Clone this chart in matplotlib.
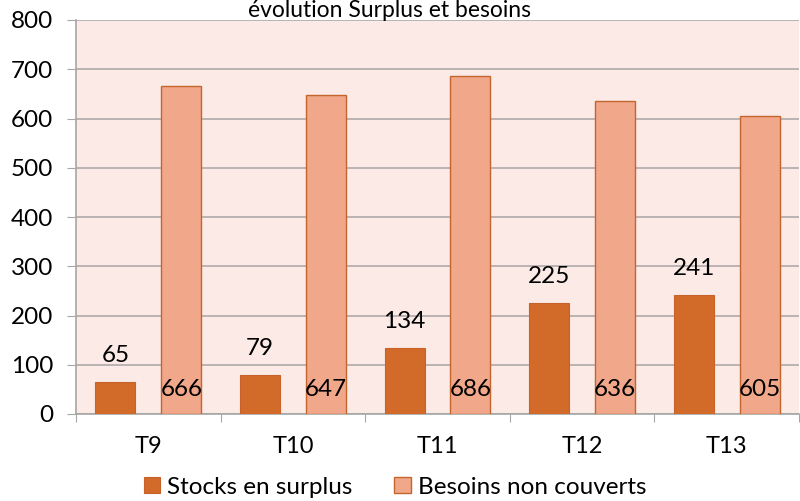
import numpy as np
import matplotlib.pyplot as plt

categories = ['T9', 'T10', 'T11', 'T12', 'T13']
stocks_surplus = [65, 79, 134, 225, 241]
besoins_non_couverts = [666, 647, 686, 636, 605]

plt.rcParams['font.family'] = ['Lato', 'DejaVu Sans']

fig = plt.figure(figsize=(8, 5.01), dpi=100)
ax = fig.add_axes([76 / 800, 1 - 414 / 501, 723 / 800, 394 / 501])
ax.set_facecolor('#FBEAE5')

x = np.arange(len(categories))
w = 0.277
off = 0.228
b1 = ax.bar(x - off, stocks_surplus, w, color='#D26B29', edgecolor='#C6622A', linewidth=0.8,
            label='Stocks en surplus', zorder=3)
b2 = ax.bar(x + off, besoins_non_couverts, w, color='#F1A88A', edgecolor='#C5652E', linewidth=1.0,
            label='Besoins non couverts', zorder=3)

# valeurs : au-dessus pour le surplus, en bas de la barre pour les besoins
for xi, v in zip(x - off, stocks_surplus):
    ax.annotate(str(v), (xi, v), xytext=(0, 19), textcoords='offset points',
                ha='center', va='center', fontsize=17.5, color='black')
for xi, v in zip(x + off, besoins_non_couverts):
    ax.annotate(str(v), (xi, 0), xytext=(0, 18), textcoords='offset points',
                ha='center', va='center', fontsize=17.5, color='black', zorder=4)

ax.set_xlim(-0.5, len(categories) - 0.5)
ax.set_ylim(0, 800)
ax.set_yticks(range(0, 801, 100))
ax.yaxis.grid(True, color='#B0AAAA', linewidth=1.2, zorder=0)
ax.set_axisbelow(True)

ax.set_xticks(np.arange(-0.5, len(categories), 1.0))
ax.set_xticklabels([])
ax.set_xticks(x, minor=True)
ax.set_xticklabels(categories, minor=True, fontsize=17)
ax.tick_params(axis='x', which='major', length=6, color='#A6A6A6')
ax.tick_params(axis='x', which='minor', length=0, pad=16)
ax.tick_params(axis='y', length=6.5, color='#A6A6A6', labelsize=17.5, pad=10)

for s in ['top', 'right']:
    ax.spines[s].set_visible(False)
for s in ['left', 'bottom']:
    ax.spines[s].set_color('#A6A6A6')
    ax.spines[s].set_linewidth(1.2)

fig.text(389 / 800, 1 - 17 / 501, 'évolution Surplus et besoins', ha='center', va='baseline', fontsize=16.5)
fig.legend(handles=[b1, b2], loc='center', bbox_to_anchor=(395 / 800, 1 - 487 / 501), ncol=2,
           frameon=False, fontsize=17.5, handlelength=0.68, handleheight=0.68, handletextpad=0.3,
           columnspacing=1.7, borderpad=0)

fig.savefig('out.png', dpi=100)
